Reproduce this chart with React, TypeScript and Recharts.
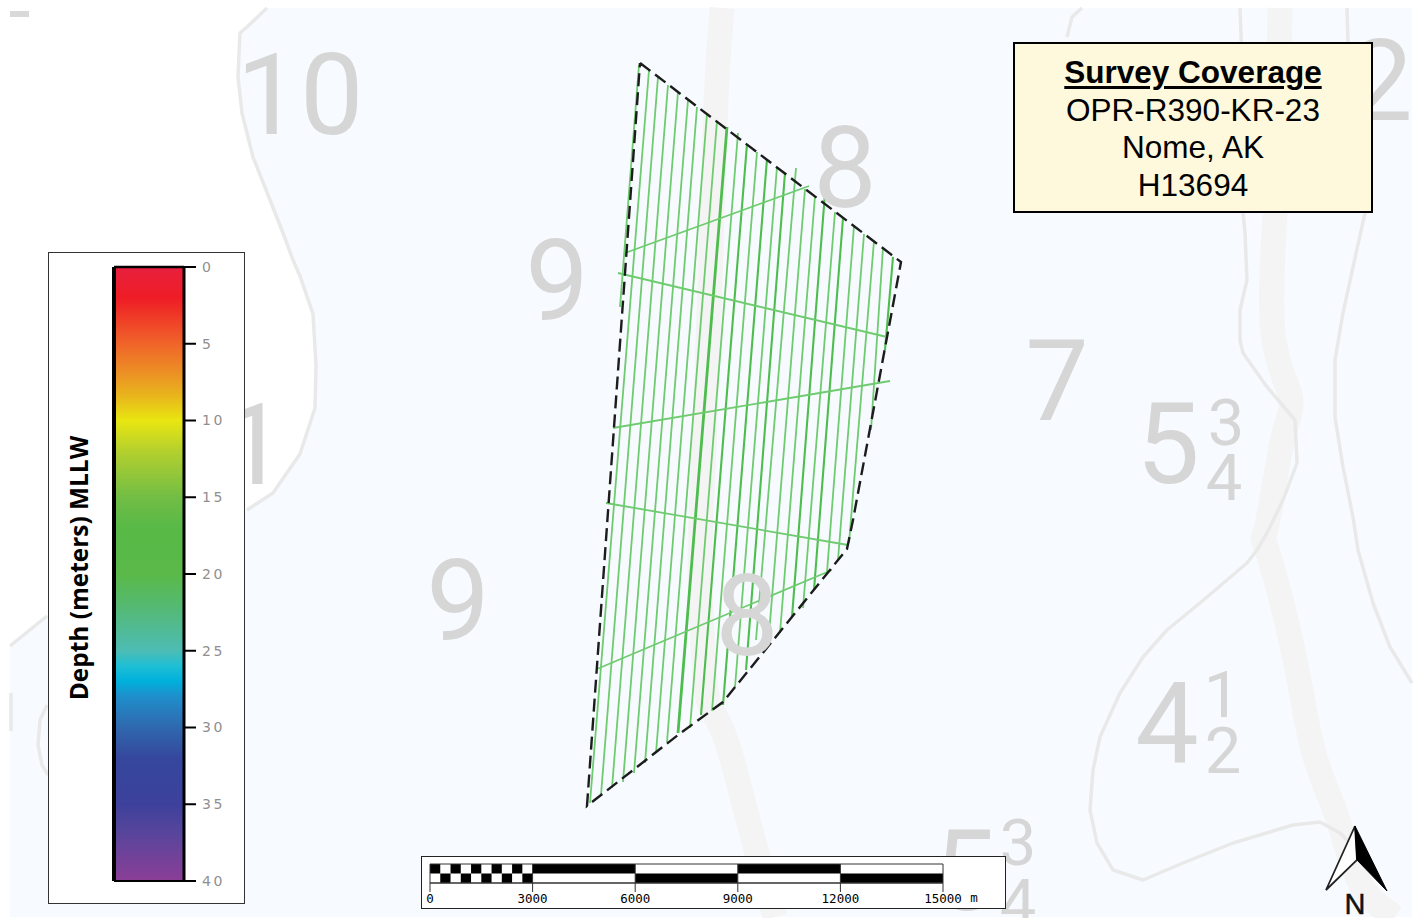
import { Area, ComposedChart, Line, Scatter, ReferenceArea, ReferenceLine, XAxis, YAxis } from "recharts";

const pts = (list: number[][]) => list.map(([x, y]) => ({ x, y }));

// survey tracks in map pixels
const trackTops = [
  [639, 65], [649, 70], [658, 77], [668, 85], [678, 92], [688, 100], [697, 107], [707, 114], [717, 121], [727, 127],
  [738, 133], [747, 144], [757, 152], [767, 159], [777, 167], [785, 173], [796, 168], [805, 189], [815, 196], [825, 193],
  [835, 212], [843, 218], [854, 226], [864, 234], [874, 241], [883, 248], [893, 257],
];
const trackBottoms = [
  [620, 307], [590, 803], [601, 795], [612, 788], [623, 782], [634, 773], [645, 763], [656, 753], [667, 742], [678, 733],
  [690, 728], [701, 715], [712, 711], [723, 705], [735, 687], [746, 670], [756, 640], [768, 647], [780, 633], [792, 617],
  [803, 608], [814, 590], [827, 572], [838, 560], [849, 543], [871, 430], [885, 350],
];
const heavyTracks = [9];
const mediumTracks = [11, 13, 15, 19, 21, 26];

const crossLines = [
  [[625, 253], [809, 186]],
  [[618, 273], [887, 337]],
  [[613, 428], [890, 381]],
  [[606, 503], [848, 545]],
  [[597, 669], [832, 570]],
];
const surveyLimit = [[640, 63], [901, 262], [853, 520], [847, 549], [723, 702], [678, 735], [587, 806], [640, 63]];

// chart background
const shoalX = [10, 47, 238, 238, 242, 253, 270, 283, 293, 300, 313, 316];
const shoalTop = [8, 8, 8, 77, 113, 157, 200, 233, 260, 276, 314, 365];
const shoalBottom = [646, 616, 512, 512, 511, 506, 495, 481, 465, 454, 415, 365];
const capX = [238, 240, 247, 267];
const capBottom = [77, 33, 27, 8];

const contours = [
  [[267, 8], [247, 27], [240, 33], [238, 77], [242, 113], [253, 157], [270, 200], [283, 233], [293, 260], [300, 276], [313, 314], [316, 365], [315, 408], [300, 454], [273, 493], [247, 510]],
  [[10, 646], [47, 616]],
  [[47, 705], [40, 720], [38, 745], [42, 765], [48, 775]],
  [[11, 693], [11, 731]],
  [[1082, 8], [1072, 17], [1067, 37]],
  [[1240, 8], [1242, 60], [1243, 213], [1245, 233], [1247, 280], [1240, 310], [1240, 340], [1243, 353], [1267, 387], [1295, 420], [1297, 463], [1283, 500], [1267, 533], [1257, 550], [1247, 563], [1200, 603], [1167, 630], [1143, 657], [1120, 693], [1100, 737], [1093, 770], [1090, 810], [1097, 843], [1113, 870], [1143, 880], [1183, 863], [1233, 843], [1293, 825], [1320, 822], [1340, 833], [1357, 850]],
  [[1347, 8], [1348, 43], [1365, 213], [1353, 267], [1343, 313], [1335, 360], [1335, 417], [1343, 467], [1353, 517], [1358, 550], [1373, 603], [1390, 647], [1412, 683]],
];
const channels = [
  [[722, 8], [716, 100], [710, 283], [704, 453], [700, 553], [703, 650], [708, 700], [720, 725], [735, 770], [756, 850], [775, 917]],
  [[1280, 8], [1278, 120], [1275, 213], [1273, 333], [1290, 395], [1285, 430], [1275, 480], [1265, 533], [1267, 550], [1293, 650], [1313, 750], [1337, 817], [1360, 883], [1395, 917]],
];
const tickMark = [[10, 14], [29, 14]];

const soundings = [
  { label: "10", x: 300, y: 134 }, { label: "9", x: 557, y: 320 }, { label: "8", x: 845, y: 207 },
  { label: "9", x: 458, y: 640 }, { label: "8", x: 747, y: 655 }, { label: "7", x: 1057, y: 420 },
  { label: "5", x: 1168, y: 483 }, { label: "4", x: 1167, y: 763 }, { label: "5", x: 965, y: 910 },
  { label: "1", x: 254, y: 484 }, { label: "2", x: 1381, y: 120 },
];
const fractions = [
  { label: "3", x: 1226, y: 445 }, { label: "4", x: 1224, y: 500 }, { label: "1", x: 1222, y: 717 },
  { label: "2", x: 1223, y: 773 }, { label: "3", x: 1018, y: 865 }, { label: "4", x: 1018, y: 925 },
];

// colour scale
const depthTicks = [0, 5, 10, 15, 20, 25, 30, 35, 40];
const rampDepths = [0, 2, 5, 7, 8.5, 10, 12, 15, 17, 20, 22, 25, 26, 27, 28, 30, 32, 35, 37, 40];
const rampColors = ["#e8203f", "#ee1c25", "#f0642a", "#ec9224", "#e8b81c", "#e9e611", "#b4d02e", "#72bd45", "#58b947", "#5ab948", "#55b970", "#4dbcb4", "#1ebfd6", "#00b0dc", "#1f8ecb", "#2f68ae", "#35479c", "#3d419b", "#5a459b", "#8b3e97"];

// scale bar, metres
const scaleTicks = [0, 3000, 6000, 9000, 12000, 15000];
const scaleBreaks = [0, 300, 600, 900, 1200, 1500, 1800, 2100, 2400, 2700, 3000, 6000, 9000, 12000, 15000];

const digit = (size: number) => (props: any) => (
  <text x={props.cx} y={props.cy} textAnchor="middle" fontFamily="Roboto" fontSize={size} fill="#d6d6d6">
    {props.payload.label}
  </text>
);

function MapChart() {
  return (
    <ComposedChart width={1418} height={918} margin={{ top: 0, right: 0, bottom: 0, left: 0 }}>
      <XAxis type="number" dataKey="x" domain={[0, 1418]} hide allowDataOverflow />
      <YAxis type="number" dataKey="y" domain={[0, 918]} reversed hide allowDataOverflow />
      <ReferenceArea x1={10} x2={1412} y1={8} y2={917} fill="#f7fbff" fillOpacity={1} stroke="none" />
      <Area
        data={shoalX.map((x, i) => ({ x, range: [shoalTop[i], shoalBottom[i]] }))}
        dataKey="range"
        type="linear"
        fill="#ffffff"
        fillOpacity={1}
        stroke="none"
        dot={false}
        activeDot={false}
        isAnimationActive={false}
      />
      <Area
        data={capX.map((x, i) => ({ x, range: [8, capBottom[i]] }))}
        dataKey="range"
        type="linear"
        fill="#ffffff"
        fillOpacity={1}
        stroke="none"
        dot={false}
        activeDot={false}
        isAnimationActive={false}
      />
      {channels.map((c, i) => (
        <Line key={`channel${i}`} data={pts(c)} dataKey="y" type="natural" stroke="#f4f4f4" strokeWidth={25} dot={false} activeDot={false} isAnimationActive={false} />
      ))}
      {contours.map((c, i) => (
        <Line key={`contour${i}`} data={pts(c)} dataKey="y" type="linear" stroke="#e9e9e9" strokeWidth={3.5} strokeLinejoin="round" dot={false} activeDot={false} isAnimationActive={false} />
      ))}
      <Line data={pts(tickMark)} dataKey="y" type="linear" stroke="#d9d9d9" strokeWidth={6} dot={false} activeDot={false} isAnimationActive={false} />
      <Scatter data={soundings} shape={digit(113)} isAnimationActive={false} />
      <Scatter data={fractions} shape={digit(65)} isAnimationActive={false} />
      {trackTops.map((top, i) => {
        const heavy = heavyTracks.includes(i);
        const medium = mediumTracks.includes(i);
        return (
          <Line
            key={`track${i}`}
            data={pts([top, trackBottoms[i]])}
            dataKey="y"
            type="linear"
            stroke={heavy || medium ? "#4dbd4d" : "#6fcb6f"}
            strokeWidth={heavy ? 2.8 : medium ? 2.1 : 1.8}
            dot={false}
            activeDot={false}
            isAnimationActive={false}
          />
        );
      })}
      {crossLines.map((c, i) => (
        <Line key={`cross${i}`} data={pts(c)} dataKey="y" type="linear" stroke="#6fcb6f" strokeWidth={1.8} dot={false} activeDot={false} isAnimationActive={false} />
      ))}
      <Line data={pts(surveyLimit)} dataKey="y" type="linear" stroke="#1c1c1c" strokeWidth={2.4} strokeDasharray="13 6" dot={false} activeDot={false} isAnimationActive={false} />
    </ComposedChart>
  );
}

function DepthLegend() {
  return (
    <div style={{ position: "absolute", left: 48, top: 252, width: 197, height: 652, background: "#fff", border: "1px solid #333", boxSizing: "border-box" }}>
      <div style={{ position: "absolute", left: -1, top: -1 }}>
        <ComposedChart width={197} height={652} margin={{ top: 15, right: 0, bottom: 23, left: 66 }}>
          <defs>
            <linearGradient id="depthRamp" x1="0" y1="0" x2="0" y2="1">
              {rampDepths.map((d, i) => (
                <stop key={d} offset={`${(d / 40) * 100}%`} stopColor={rampColors[i]} />
              ))}
            </linearGradient>
          </defs>
          <XAxis type="number" dataKey="x" domain={[0, 1]} hide />
          <YAxis
            type="number"
            orientation="right"
            domain={[0, 40]}
            reversed
            ticks={depthTicks}
            interval={0}
            width={61}
            tickSize={12}
            tickMargin={6}
            axisLine={{ stroke: "#000", strokeWidth: 3 }}
            tickLine={{ stroke: "#000", strokeWidth: 2 }}
            tick={{ fill: "#8f8f8f", fontSize: 14, fontFamily: "DejaVu Sans", letterSpacing: 2.5 }}
          />
          <Area
            data={[{ x: 0, range: [0, 40] }, { x: 1, range: [0, 40] }]}
            dataKey="range"
            type="linear"
            fill="url(#depthRamp)"
            fillOpacity={1}
            stroke="none"
            dot={false}
            activeDot={false}
            isAnimationActive={false}
          />
          <ReferenceLine x={0} stroke="#000" strokeWidth={4} />
          <ReferenceLine y={0} stroke="#000" strokeWidth={2.5} />
          <ReferenceLine y={40} stroke="#000" strokeWidth={2} />
          <text
            transform="translate(40,316) rotate(-90)"
            textAnchor="middle"
            fontFamily="Open Sans"
            fontWeight={700}
            fontSize={24.4}
            fill="#000"
          >
            Depth (meters) MLLW
          </text>
        </ComposedChart>
      </div>
    </div>
  );
}

function ScaleBar() {
  return (
    <div style={{ position: "absolute", left: 421, top: 856, width: 585, height: 53, background: "#fff", border: "1px solid #222", boxSizing: "border-box" }}>
      <div style={{ position: "absolute", left: -1, top: -1 }}>
        <ComposedChart width={585} height={53} margin={{ top: 8, right: 63, bottom: 0, left: 9 }}>
          <XAxis
            type="number"
            dataKey="x"
            domain={[0, 15000]}
            ticks={scaleTicks}
            interval={0}
            height={26}
            tickSize={9}
            tickMargin={2}
            axisLine={{ stroke: "#333" }}
            tickLine={{ stroke: "#333" }}
            tick={{ fill: "#000", fontSize: 12.5, fontFamily: "DejaVu Sans Mono" }}
          />
          <YAxis type="number" domain={[0, 2]} hide />
          {scaleBreaks.slice(0, -1).map((from, i) => {
            const row = i % 2 === 0 ? [1, 2] : [0, 1];
            return (
              <Area
                key={from}
                data={[{ x: from, range: row }, { x: scaleBreaks[i + 1], range: row }]}
                dataKey="range"
                type="linear"
                fill="#000"
                fillOpacity={1}
                stroke="none"
                dot={false}
                activeDot={false}
                isAnimationActive={false}
              />
            );
          })}
          <ReferenceArea x1={0} x2={15000} y1={0} y2={2} fill="none" stroke="#333" strokeWidth={1} />
          {scaleTicks.slice(1, -1).map((t) => (
            <ReferenceLine key={t} x={t} stroke="#333" />
          ))}
          <text x={553} y={46} textAnchor="middle" fontFamily="DejaVu Sans Mono" fontSize={12.5} fill="#000">m</text>
        </ComposedChart>
      </div>
    </div>
  );
}

const titleLines = ["OPR-R390-KR-23", "Nome, AK", "H13694"];

function TitleBox() {
  return (
    <div style={{ position: "absolute", left: 1013, top: 42, width: 360, height: 171, background: "#fef8dc", border: "2px solid #000", boxSizing: "border-box", textAlign: "center", fontFamily: "Liberation Sans", fontSize: 31.5, lineHeight: "37.5px", paddingTop: 10, color: "#000" }}>
      <div style={{ fontWeight: 700, textDecoration: "underline", textDecorationThickness: 3, textUnderlineOffset: 3 }}>Survey Coverage</div>
      {titleLines.map((t) => (
        <div key={t}>{t}</div>
      ))}
    </div>
  );
}

function NorthArrow() {
  return (
    <svg width={1418} height={918} style={{ position: "absolute", left: 0, top: 0, pointerEvents: "none" }}>
      <polygon points="1355,826 1326,890 1357,860" fill="#fff" stroke="#222" strokeWidth={1.8} />
      <polygon points="1355,826 1357,860 1387,891" fill="#000" stroke="#000" strokeWidth={1} />
      <text x={1355} y={914} textAnchor="middle" fontFamily="Liberation Sans" fontSize={29} fill="#111" stroke="#111" strokeWidth={0.5}>N</text>
    </svg>
  );
}

export default function App() {
  return (
    <div style={{ position: "absolute", left: 0, top: 0, width: 1418, height: 918, background: "#fff", overflow: "hidden" }}>
      <MapChart />
      <DepthLegend />
      <ScaleBar />
      <TitleBox />
      <NorthArrow />
    </div>
  );
}
